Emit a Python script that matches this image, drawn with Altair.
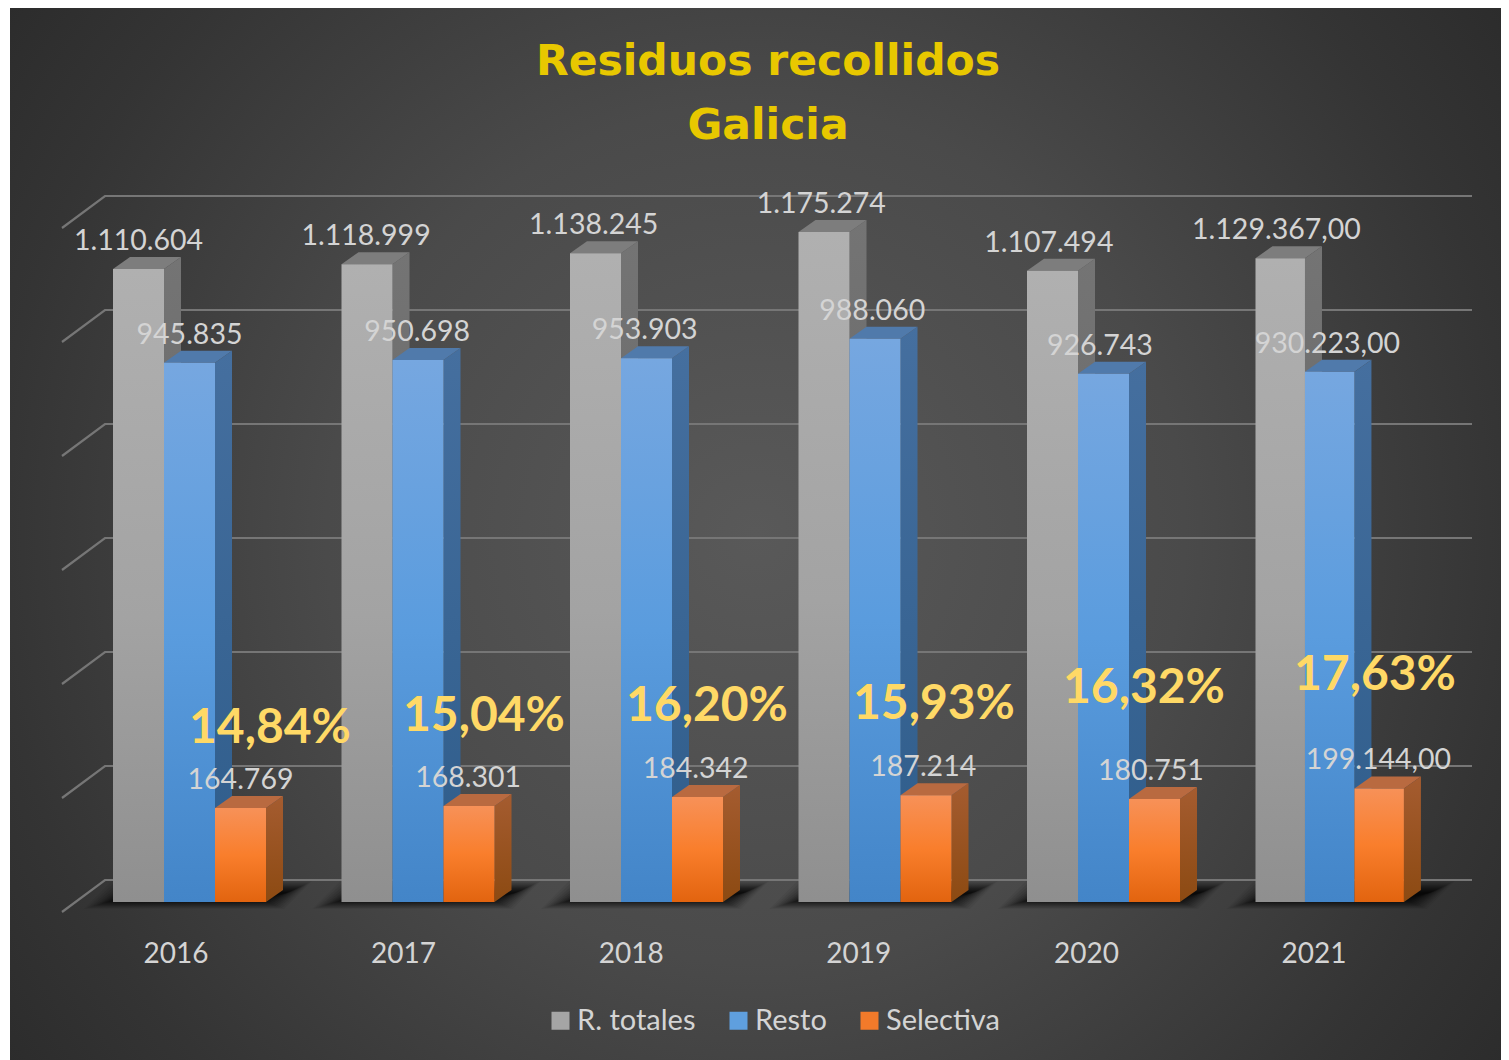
import altair as alt
import pandas as pd

# ---- data
years = [2016, 2017, 2018, 2019, 2020, 2021]
totales = [1110604, 1118999, 1138245, 1175274, 1107494, 1129367]
resto = [945835, 950698, 953903, 988060, 926743, 930223]
selectiva = [164769, 168301, 184342, 187214, 180751, 199144]
porcentaje = ["14,84%", "15,04%", "16,20%", "15,93%", "16,32%", "17,63%"]
grid_values = [0, 200000, 400000, 600000, 800000, 1000000, 1200000]
series_names = ["R. totales", "Resto", "Selectiva"]
legend_colors = ["#a5a5a5", "#5f9fde", "#f27a2a"]
title_lines = ["Residuos recollidos", "Galicia"]

# ---- layout
W, H = 1493, 1052
K = 0.00057      # px per unit of value
STEP = 228.5     # px per year
X0 = 189.5       # page px of the first group's centre
Y0 = 902         # page px of the value 0
BAR = 51 / STEP
DX = 17 / STEP   # 3D depth
DV = 12 / K


def ux(px):
    return (px - X0) / STEP


def vy(py):
    return (Y0 - py) / K


xs = alt.Scale(domain=[ux(8), ux(8 + W)], nice=False, zero=False)
ys = alt.Scale(domain=[vy(8 + H), vy(8)], nice=False, zero=False)
X = lambda f="x": alt.X(f"{f}:Q", scale=xs, axis=None)
Y = lambda f="y": alt.Y(f"{f}:Q", scale=ys, axis=None)


def vgrad(*stops):
    return {"gradient": "linear", "x1": 0, "x2": 0, "y1": 0, "y2": 1,
            "stops": [{"offset": o, "color": c} for o, c in stops]}


STYLES = [
    dict(front=vgrad((0, "#b0b0b0"), (0.55, "#a3a3a3"), (1, "#8f8f8f")),
         side=vgrad((0, "#747474"), (1, "#5e5e5e")), top="#7d7d7d"),
    dict(front=vgrad((0, "#76a7e0"), (0.5, "#5a9cde"), (1, "#4385c8")),
         side=vgrad((0, "#456f9f"), (1, "#2e5c8a")), top="#507aab"),
    dict(front=vgrad((0, "#f79158"), (0.5, "#f97e2c"), (1, "#e2640f")),
         side=vgrad((0, "#a55c30"), (1, "#8c4a12")), top="#b96a40"),
]

# ---- background
bg = alt.Chart(pd.DataFrame({"a": [0]})).mark_rect(
    fill={"gradient": "radial", "x1": 0.5, "y1": 0.5, "x2": 0.5, "y2": 0.5, "r1": 0, "r2": 0.64,
          "stops": [{"offset": 0, "color": "#595959"}, {"offset": 0.45, "color": "#4a4a4a"},
                    {"offset": 0.8, "color": "#343434"}, {"offset": 1, "color": "#2a2a2a"}]}
).encode(x=alt.value(2), x2=alt.value(W), y=alt.value(0), y2=alt.value(H))

# ---- grid: left wall + back wall
grid_rows = []
for v in grid_values:
    back = v + 22 / K
    grid_rows += [dict(v=v, x=ux(62), y=v - 10 / K, o=0),
                  dict(v=v, x=ux(105), y=back, o=1),
                  dict(v=v, x=ux(1472), y=back, o=2)]
grid = alt.Chart(pd.DataFrame(grid_rows)).mark_line(color="#767676", strokeWidth=2.2).encode(
    x=X(), y=Y(), detail="v:N", order="o:Q")

# ---- floor shadow: nested translucent shapes stand in for the blur
shadow_layers = []
for inset in range(0, 36, 3):
    rows = []
    for i in range(len(years)):
        rows += [dict(i=i, y=vy(909 - inset * 0.3), x=i + ux(84 + inset), x2=i + ux(284 - inset * 0.7)),
                 dict(i=i, y=vy(881 + inset * 0.35), x=i + ux(112 + inset), x2=i + ux(312 - inset * 0.7))]
    shadow_layers.append(alt.Chart(pd.DataFrame(rows)).mark_area(
        orient="horizontal", color="#000000", opacity=0.05 + inset * 0.005).encode(
        y=Y(), x=X(), x2="x2:Q", detail="i:N"))

# ---- 3D bars
series = [totales, resto, selectiva]
bar_layers = []
label_rows = []
for j, vals in enumerate(series):
    front, side, top = [], [], []
    for i, v in enumerate(vals):
        w = BAR * (0.97 if i == 5 else 1)
        a = i - 1.5 * BAR + j * w
        b = a + w
        front.append(dict(x=a, x2=b, y=0, y2=v))
        side += [dict(i=i, x=b, y=v, y2=0), dict(i=i, x=b + DX, y=v + DV, y2=DV)]
        top += [dict(i=i, y=v, x=a, x2=b), dict(i=i, y=v + DV, x=a + DX, x2=b + DX)]
        label_rows.append(dict(x=i * 0.996 - 1.5 * BAR + (j + 0.5) * BAR, y=v,
                               t=f"{v:,}".replace(",", ".") + (",00" if i == 5 else "")))
    st = STYLES[j]
    bar_layers.append(alt.Chart(pd.DataFrame(side)).mark_area(color=st["side"]).encode(
        x=X(), y=Y(), y2="y2:Q", detail="i:N"))
    bar_layers.append(alt.Chart(pd.DataFrame(top)).mark_area(orient="horizontal", color=st["top"]).encode(
        y=Y(), x=X(), x2="x2:Q", detail="i:N"))
    bar_layers.append(alt.Chart(pd.DataFrame(front)).mark_rect(color=st["front"]).encode(
        x=X(), x2="x2:Q", y=Y(), y2="y2:Q"))

labels = alt.Chart(pd.DataFrame(label_rows)).mark_text(
    font="Lato", fontSize=28.5, color="#d4d4d4", dy=-28, baseline="middle", align="center"
).encode(x=X(), y=Y(), text="t:N")

# ---- hand-placed percentage labels, anchored on the Selectiva bars
pct_offsets = [(29.5, -79), (15, -89), (9.5, -90), (8, -90), (-10.5, -110), (-8, -112)]
pct_layers = []
for i, (dx, dy) in enumerate(pct_offsets):
    d = pd.DataFrame({"x": [i + BAR], "y": [selectiva[i]], "t": [porcentaje[i]]})
    pct_layers.append(alt.Chart(d).mark_text(
        font="Lato", fontWeight="bold", fontSize=48, color="#ffd966", dx=dx, dy=dy,
        baseline="middle", align="center").encode(x=X(), y=Y(), text="t:N"))

# ---- category labels
year_rows = [dict(x=ux(176 + 227.6 * i), y=vy(955), t=str(y)) for i, y in enumerate(years)]
year_text = alt.Chart(pd.DataFrame(year_rows)).mark_text(
    font="Lato", fontSize=28, color="#d4d4d4", baseline="middle", align="center"
).encode(x=X(), y=Y(), text="t:N")

# ---- legend
leg = alt.Chart(pd.DataFrame({"s": series_names, "x": [0, 1, 2], "y": [0, 0, 0]})).mark_point(
    shape="square", filled=True, opacity=0
).encode(
    x=X(), y=Y(),
    color=alt.Color("s:N", scale=alt.Scale(domain=series_names, range=legend_colors), legend=alt.Legend(
        orient="none", legendX=538, legendY=998, direction="horizontal", columns=3, title=None,
        symbolType="square", symbolSize=324, symbolOpacity=1, symbolStrokeWidth=0,
        labelFont="Lato", labelFontSize=29, labelColor="#d4d4d4", labelOffset=2,
        columnPadding=28, labelOpacity=1)),
)

chart = alt.layer(bg, grid, *shadow_layers, *bar_layers, labels, *pct_layers, year_text, leg).properties(
    width=W, height=H, padding=0, autosize="none",
    title=alt.TitleParams(
        text=title_lines, font="DejaVu Sans", fontWeight="bold", fontSize=42.5,
        color="#e8c800", lineHeight=64, anchor="middle", dx=13.5, dy=143, zindex=1, baseline="top"),
).configure_view(strokeWidth=0)

chart.save("out.html", embed_options={"renderer": "svg", "actions": False})
